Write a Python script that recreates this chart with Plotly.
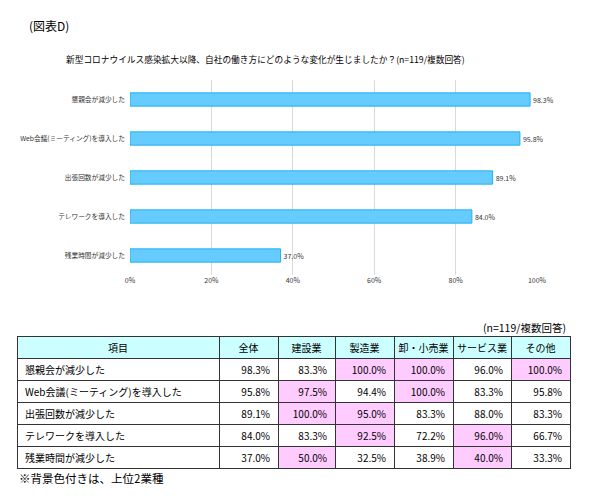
import plotly.graph_objects as go

# 棒グラフのデータ
items = ["懇親会が減少した", "Web会議(ミーティング)を導入した", "出張回数が減少した",
         "テレワークを導入した", "残業時間が減少した"]
total = [98.3, 95.8, 89.1, 84.0, 37.0]

# 業種別の表データ
industries = ["建設業", "製造業", "卸・小売業", "サービス業", "その他"]
construction = [83.3, 97.5, 100.0, 83.3, 50.0]
manufacturing = [100.0, 94.4, 95.0, 92.5, 32.5]
retail = [100.0, 100.0, 83.3, 72.2, 38.9]
service = [96.0, 83.3, 88.0, 96.0, 40.0]
others = [100.0, 95.8, 83.3, 66.7, 33.3]

FONT = "Noto Sans CJK JP"
BAR_FILL = "#66CCFF"
BAR_LINE = "#1DB2F0"
HEAD_FILL = "#CCFFFF"
PINK = "#FFCCFF"

# ページ余白(8px)を引いた画素位置 → paper座標
def px(x):
    return (x - 8) / 600

def py(y):
    return 1 - (y - 8) / 500

fig = go.Figure()

# 横棒グラフ
fig.add_trace(go.Bar(
    x=total, y=items, orientation="h",
    marker=dict(color=BAR_FILL, line=dict(color=BAR_LINE, width=1)),
    text=[f"{v:.1f}%" for v in total], textposition="outside",
    textfont=dict(size=7, color="#333333", family=FONT),
    cliponaxis=False, showlegend=False, hoverinfo="x+y",
))

# 表（上位2業種はピンク）
cols = [construction, manufacturing, retail, service, others]
fills = [["white"] * len(items), ["white"] * len(items)]
for col in cols:
    fills.append([])
for r in range(len(items)):
    row = [c[r] for c in cols]
    second = sorted(row, reverse=True)[1]
    for i, c in enumerate(cols):
        fills[i + 2].append(PINK if c[r] >= second else "white")

fig.add_trace(go.Table(
    domain=dict(x=[px(17), px(570)], y=[py(470), py(336)]),
    columnwidth=[202, 59, 57, 59, 59, 58, 59],
    header=dict(
        values=["項目", "全体"] + industries,
        fill_color=HEAD_FILL, align="center", height=22,
        line=dict(color="#333333", width=1),
        font=dict(family=FONT, size=10, color="black"),
    ),
    cells=dict(
        values=[items, [f"{v:.1f}%" for v in total]] + [[f"{v:.1f}%" for v in c] for c in cols],
        fill_color=fills, align=["left"] + ["right"] * 6, height=22,
        line=dict(color="#333333", width=1),
        font=dict(family=FONT, size=10, color="black"),
    ),
))

fig.update_layout(
    width=600, height=500,
    margin=dict(l=0, r=0, t=0, b=0),
    paper_bgcolor="white", plot_bgcolor="white",
    font=dict(family=FONT, color="#222222"),
    bargap=0.66,
    xaxis=dict(domain=[px(130), px(537)], range=[0, 100], dtick=20,
               ticksuffix="%", showgrid=True, gridcolor="#D9D9D9", gridwidth=1,
               zeroline=False, showline=False, tickfont=dict(size=7, color="#333333"),
               automargin=False, fixedrange=True),
    yaxis=dict(domain=[py(275), py(80)], autorange="reversed",
               showgrid=False, showline=False, ticks="", ticklabelstandoff=4,
               tickfont=dict(size=6.7, color="#333333"), automargin=False, fixedrange=True),
    annotations=[
        dict(text="(図表D)", x=px(27), y=py(25), xref="paper", yref="paper",
             xanchor="left", yanchor="middle", showarrow=False,
             font=dict(size=12, color="black")),
        dict(text="新型コロナウイルス感染拡大以降、自社の働き方にどのような変化が生じましたか？(n=119/複数回答)",
             x=px(265), y=py(60), xref="paper", yref="paper",
             xanchor="center", yanchor="middle", showarrow=False,
             font=dict(size=8.7, color="black")),
        dict(text="(n=119/複数回答)", x=px(568), y=py(327), xref="paper", yref="paper",
             xanchor="right", yanchor="middle", showarrow=False,
             font=dict(size=10.5, color="black")),
        dict(text="※背景色付きは、上位2業種", x=px(17), y=py(478), xref="paper", yref="paper",
             xanchor="left", yanchor="middle", showarrow=False,
             font=dict(size=11.5, color="black")),
    ],
)

fig.write_html("out.html")
